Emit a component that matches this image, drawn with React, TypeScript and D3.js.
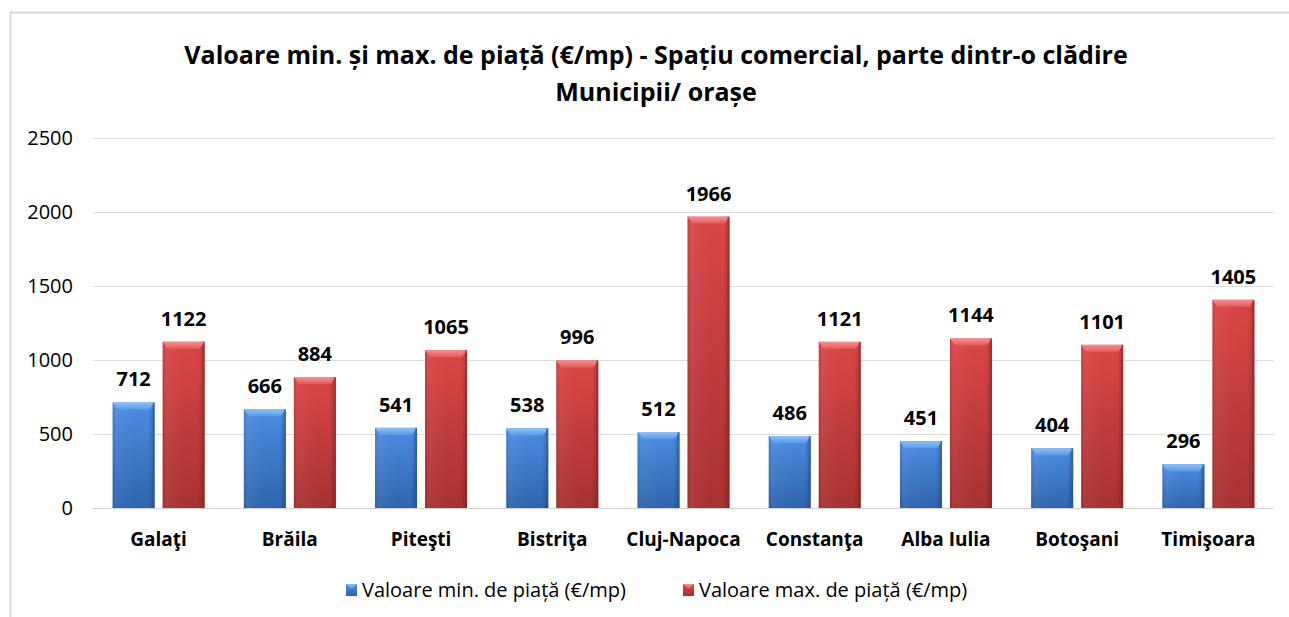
import React from 'react'
import * as d3 from 'd3'

const cities = ['Galaţi', 'Brăila', 'Piteşti', 'Bistriţa', 'Cluj-Napoca', 'Constanţa', 'Alba Iulia', 'Botoşani', 'Timişoara']
const minValues = [712, 666, 541, 538, 512, 486, 451, 404, 296]
const maxValues = [1122, 884, 1065, 996, 1966, 1121, 1144, 1101, 1405]
const yTicks = [0, 500, 1000, 1500, 2000, 2500]
const seriesNames = ['Valoare min. de piață (€/mp)', 'Valoare max. de piață (€/mp)']
const titleLines = ['Valoare min. și max. de piață (€/mp) - Spațiu comercial, parte dintr-o clădire', 'Municipii/ orașe']

const W = 1289
const H = 617
const font = '"Open Sans", "DejaVu Sans", sans-serif'

export default function App() {
  // plot area
  const x = d3.scaleBand<string>().domain(cities).range([93, 1274]).paddingInner(0).paddingOuter(0)
  const y = d3.scaleLinear().domain([0, 2500]).range([508, 137.5])
  const barW = 42
  const gap = 8

  const series = [
    { name: seriesNames[0], values: minValues, grad: 'gBlue', bevel: 'gBlueTop', side: '#2a5596' },
    { name: seriesNames[1], values: maxValues, grad: 'gRed', bevel: 'gRedTop', side: '#8f2323' },
  ]

  const bar = (x0: number, v: number, s: typeof series[0], k: string) => {
    const top = y(v)
    const bottom = y(0)
    const x1 = x0 + barW
    const bv = 7
    return (
      <g key={k}>
        <rect x={x0} y={top} width={barW} height={bottom - top} fill={`url(#${s.grad})`} />
        <rect x={x0} y={top} width={barW} height={bottom - top} fill="url(#gShade)" />
        <polygon points={`${x0},${top} ${x1},${top} ${x1 - 5},${top + bv} ${x0 + 5},${top + bv}`} fill={`url(#${s.bevel})`} />
        <rect x={x1 - 2} y={top} width={2} height={bottom - top} fill={s.side} opacity={0.5} />
      </g>
    )
  }

  return (
    <svg width={W} height={H} style={{ position: 'absolute', left: 0, top: 0, background: '#fff' }}>
      <defs>
        <linearGradient id="gBlue" x1="0" y1="0" x2="0" y2="1">
          <stop offset="0" stopColor="#4b8de3" />
          <stop offset="1" stopColor="#2f65ad" />
        </linearGradient>
        <linearGradient id="gRed" x1="0" y1="0" x2="0" y2="1">
          <stop offset="0" stopColor="#dc4646" />
          <stop offset="1" stopColor="#a83131" />
        </linearGradient>
        <linearGradient id="gBlueTop" x1="0" y1="0" x2="0" y2="1">
          <stop offset="0" stopColor="#8ec0f6" />
          <stop offset="1" stopColor="#5b9be8" />
        </linearGradient>
        <linearGradient id="gRedTop" x1="0" y1="0" x2="0" y2="1">
          <stop offset="0" stopColor="#f79090" />
          <stop offset="1" stopColor="#e45a5a" />
        </linearGradient>
        <linearGradient id="gShade" x1="0" y1="0" x2="1" y2="0">
          <stop offset="0" stopColor="#000" stopOpacity="0.12" />
          <stop offset="0.1" stopColor="#fff" stopOpacity="0.05" />
          <stop offset="0.85" stopColor="#000" stopOpacity="0" />
          <stop offset="1" stopColor="#000" stopOpacity="0.2" />
        </linearGradient>
      </defs>

      {/* chart frame */}
      <path d={`M10.5,${H} L10.5,12.5 L${W},12.5`} fill="none" stroke="#d9d9d9" strokeWidth={2} />

      {titleLines.map((t, i) => (
        <text key={i} x={656} y={64 + i * 37} textAnchor="middle" fontFamily={font} fontWeight={700} fontSize={25} fill="#000">{t}</text>
      ))}

      {/* gridlines + y labels */}
      {yTicks.map(t => (
        <g key={t}>
          <line x1={93} x2={1274} y1={Math.round(y(t)) + 0.5} y2={Math.round(y(t)) + 0.5} stroke={t === 0 ? '#d0d0d0' : '#dedede'} strokeWidth={1} />
          <text x={73} y={y(t) + 7} textAnchor="end" fontFamily={font} fontSize={20} fill="#000">{t}</text>
        </g>
      ))}

      {cities.map((c, i) => {
        const cx = (x(c) ?? 0) + x.bandwidth() / 2
        const left = cx - gap / 2 - barW
        const right = cx + gap / 2
        return (
          <g key={c}>
            {bar(left, minValues[i], series[0], 'a')}
            {bar(right, maxValues[i], series[1], 'b')}
            <text x={left + barW / 2} y={y(minValues[i]) - 16} textAnchor="middle" fontFamily={font} fontWeight={700} fontSize={20} fill="#000">{minValues[i]}</text>
            <text x={right + barW / 2} y={y(maxValues[i]) - 16} textAnchor="middle" fontFamily={font} fontWeight={700} fontSize={20} fill="#000">{maxValues[i]}</text>
            <text x={cx} y={546} textAnchor="middle" fontFamily={font} fontWeight={700} fontSize={19} fill="#000">{c}</text>
          </g>
        )
      })}

      {/* legend */}
      {[{ x: 346, s: series[0] }, { x: 683, s: series[1] }].map(({ x: lx, s }) => (
        <g key={s.name}>
          <rect x={lx} y={584} width={11} height={12} fill={`url(#${s.grad})`} />
          <polygon points={`${lx},584 ${lx + 11},584 ${lx + 5.5},589`} fill={`url(#${s.bevel})`} />
          <text x={lx + 16} y={597} fontFamily={font} fontSize={20} fill="#000">{s.name}</text>
        </g>
      ))}
    </svg>
  )
}
